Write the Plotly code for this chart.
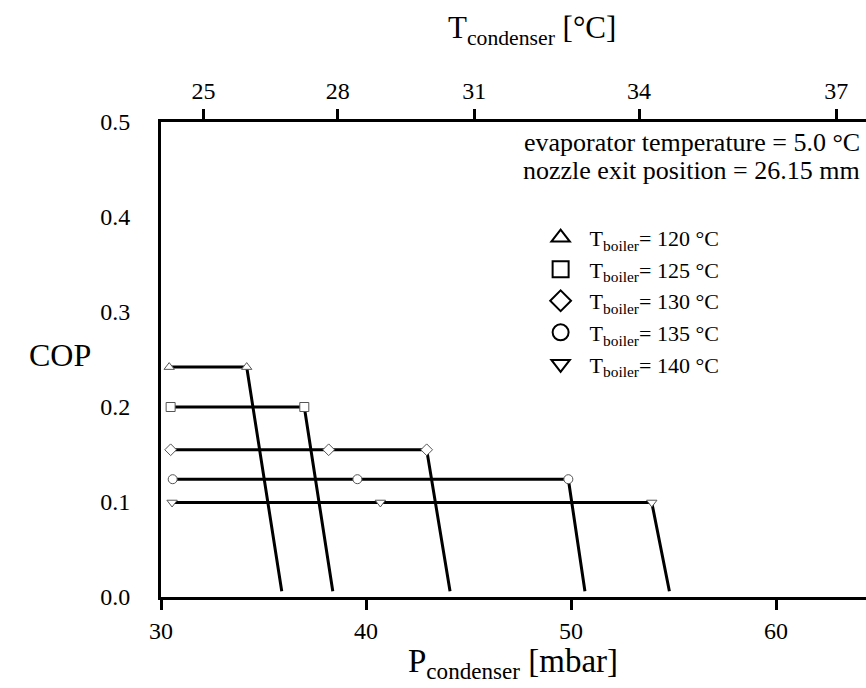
import plotly.graph_objects as go

# ---- data ----
boiler_labels = ["120", "125", "130", "135", "140"]
symbols = ["triangle-up-open", "square-open", "diamond-open", "circle-open", "triangle-down-open"]

# marker points on each constant-COP plateau (P_condenser, mbar)
p_120 = [30.40, 34.18]
p_125 = [30.47, 36.99]
p_130 = [30.47, 38.18, 42.96]
p_135 = [30.57, 39.58, 49.87]
p_140 = [30.54, 40.70, 53.94]

# plateau COP values
cop_levels = [0.242, 0.200, 0.155, 0.124, 0.0995]

# end of the steep drop (P_condenser, COP)
p_end = [35.89, 38.38, 44.10, 50.68, 54.80]
cop_end = [0.006, 0.006, 0.006, 0.006, 0.006]

# bottom axis ticks
p_ticks = [30, 40, 50, 60]
# top axis (condenser temperature) tick labels and their pressure positions
t_cond_labels = ["25", "28", "31", "34", "37"]
t_cond_pos = [32.07, 38.62, 45.28, 53.32, 62.94]

cop_ticks = [0.0, 0.1, 0.2, 0.3, 0.4, 0.5]
cop_ticktext = ["0.0", "0.1", "0.2", "0.3", "0.4", "0.5"]

x_range = [30, 64.39]
y_range = [0, 0.5]

FONT = "Liberation Serif, Times New Roman, serif"
TICKFONT = dict(size=24, family=FONT, color="black")

fig = go.Figure()
series_p = [p_120, p_125, p_130, p_135, p_140]
for i, pts in enumerate(series_p):
    lvl = cop_levels[i]
    fig.add_trace(go.Scatter(
        x=pts + [p_end[i]], y=[lvl] * len(pts) + [cop_end[i]],
        mode="lines", line=dict(color="black", width=3),
        showlegend=False, hoverinfo="skip"))
    fig.add_trace(go.Scatter(
        x=pts, y=[lvl] * len(pts), mode="markers",
        marker=dict(symbol=symbols[i].replace("-open", ""), size=9, color="white",
                    line=dict(color="#555555", width=1)),
        showlegend=False))

# legend entries (markers only)
for i, lab in enumerate(boiler_labels):
    fig.add_trace(go.Scatter(
        x=[None], y=[None], mode="markers",
        marker=dict(symbol=symbols[i], size=16, color="black",
                    line=dict(color="black", width=2)),
        name="T<sub>boiler</sub>= " + lab + " °C", legendgroup="g" + lab))

# invisible trace to activate the top axis
fig.add_trace(go.Scatter(x=x_range, y=[None, None], xaxis="x2", mode="lines",
                         showlegend=False, hoverinfo="skip"))

fig.update_layout(
    width=866, height=688,
    margin=dict(l=161, r=0, t=122, b=91),
    plot_bgcolor="white", paper_bgcolor="white",
    font=dict(family=FONT, color="black", size=24),
    xaxis=dict(range=x_range, tickvals=p_ticks, showgrid=False, zeroline=False,
               showline=True, linecolor="black", linewidth=3,
               ticks="outside", ticklen=10, tickwidth=3, tickcolor="black",
               tickfont=TICKFONT, ticklabelstandoff=0),
    xaxis2=dict(range=x_range, overlaying="x", side="top", tickvals=t_cond_pos,
                ticktext=t_cond_labels, showgrid=False, zeroline=False,
                showline=True, linecolor="black", linewidth=3,
                ticks="outside", ticklen=10, tickwidth=3, tickcolor="black",
                tickfont=TICKFONT, ticklabelstandoff=0),
    yaxis=dict(range=y_range, tickvals=cop_ticks, ticktext=cop_ticktext,
               showgrid=False, zeroline=False, showline=True, linecolor="black",
               linewidth=3, ticks="", tickfont=TICKFONT,
               ticklabelstandoff=23),
    legend=dict(x=0.5257, y=0.8005, xanchor="left", yanchor="top",
                font=dict(size=22, family=FONT), itemwidth=48,
                bgcolor="rgba(0,0,0,0)", tracegroupgap=0),
    annotations=[
        dict(text="evaporator temperature = 5.0 °C", x=0.9943, y=(597 - 142) / 475,
             xref="paper", yref="paper", xanchor="right", yanchor="middle",
             showarrow=False, font=dict(size=26, family=FONT)),
        dict(text="nozzle exit position = 26.15 mm", x=0.9943, y=(597 - 170) / 475,
             xref="paper", yref="paper", xanchor="right", yanchor="middle",
             showarrow=False, font=dict(size=26, family=FONT)),
        dict(text="P<sub>condenser</sub> [mbar]", x=(513 - 161) / 705, y=(597 - 663) / 475,
             xref="paper", yref="paper", xanchor="center", yanchor="middle",
             showarrow=False, font=dict(size=33, family=FONT)),
        dict(text="T<sub>condenser</sub> [°C]", x=(532 - 161) / 705, y=(597 - 30) / 475,
             xref="paper", yref="paper", xanchor="center", yanchor="middle",
             showarrow=False, font=dict(size=31, family=FONT)),
        dict(text="COP", x=(60 - 161) / 705, y=(597 - 355) / 475,
             xref="paper", yref="paper", xanchor="center", yanchor="middle",
             showarrow=False, font=dict(size=32, family=FONT)),
    ],
)

fig.write_html("out.html")
